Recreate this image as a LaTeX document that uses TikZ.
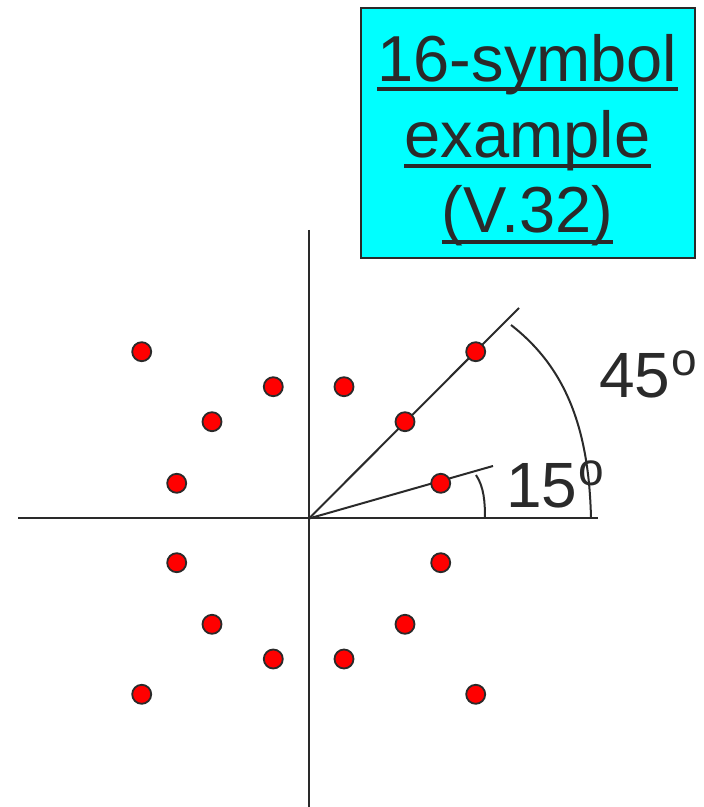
\documentclass[tikz,border=0pt]{standalone}
\usepackage{fontspec}
\setmainfont{Liberation Sans}
\definecolor{ink}{HTML}{2A2A2A}
\definecolor{boxcyan}{HTML}{00FFFF}
\definecolor{dotred}{HTML}{FF0000}
\begin{document}
\begin{tikzpicture}[x=1pt,y=1pt,
  axis/.style={draw=ink,line width=2pt},
  pt/.style={circle,draw=ink,fill=dotred,line width=1.8pt,minimum size=19pt,inner sep=0pt},
  title/.style={inner sep=0pt,text=ink,font=\fontsize{65}{76}\selectfont,anchor=base},
  uline/.style={draw=ink,line width=4pt},
  lab/.style={inner sep=0pt,text=ink,font=\fontsize{64}{70}\selectfont,anchor=base west},
  sup/.style={inner sep=0pt,text=ink,font=\fontsize{46}{50}\selectfont,anchor=base west}]
\useasboundingbox (0,0) rectangle (704,807);
% title box
\node[draw=ink,line width=2pt,fill=boxcyan,minimum width=334pt,minimum height=250pt,inner sep=0pt] (box) at (528,674) {};
\node[title] (t1) at (527.5,725) {16-symbol};
\node[title] (t2) at (527.5,649) {example};
\node[title] (t3) at (527.5,574) {(V.32)};
\draw[uline] ([yshift=-7pt]t1.base west) -- ([yshift=-7pt]t1.base east);
\draw[uline] ([yshift=-8pt]t2.base west) -- ([yshift=-8pt]t2.base east);
\draw[uline] ([yshift=-9pt]t3.base west) -- ([yshift=-9pt]t3.base east);
% axes
\coordinate (O) at (309,288.5);
\coordinate (xl) at (18,288.5);
\coordinate (xr) at (598,288.5);
\coordinate (yt) at (309,577);
\coordinate (yb) at (309,0);
\draw[axis] (xl) -- (xr);
\draw[axis] (yt) -- (yb);
\coordinate (r45) at (519,499);
\coordinate (r15) at (493,341);
\draw[axis] (O) -- (r45);
\draw[axis] (O) -- (r15);
% angle arcs
\coordinate (a45s) at (511,482);
\coordinate (a45e) at (591,288.5);
\draw[axis] (a45s) .. controls (565,440) and (589,380) .. (a45e);
\coordinate (a15s) at (476,332);
\coordinate (a15e) at (485,288.5);
\draw[axis] (a15s) .. controls (484,320) and (485,305) .. (a15e);
% labels
\node[lab] (l45) at (599,409) {45};
\node[sup] (l45o) at (l45.base east) [yshift=22pt,xshift=1pt] {o};
\node[lab] (l15) at (506,299) {15};
\node[sup] (l15o) at (l15.base east) [yshift=22pt,xshift=1pt] {o};
% constellation points (upper half)
\node[pt] (u1) at (141.7,455.3) {};
\node[pt] (u2) at (273.3,420.3) {};
\node[pt] (u3) at (344,420.3) {};
\node[pt] (u4) at (475.7,455.3) {};
\node[pt] (u5) at (212,385.3) {};
\node[pt] (u6) at (405,385.3) {};
\node[pt] (u7) at (176.7,323.7) {};
\node[pt] (u8) at (440.7,323.7) {};
% constellation points (lower half)
\node[pt] (d1) at (176.7,244.3) {};
\node[pt] (d2) at (440.7,244.3) {};
\node[pt] (d3) at (212,182.7) {};
\node[pt] (d4) at (405,182.7) {};
\node[pt] (d5) at (273.3,148) {};
\node[pt] (d6) at (344,148) {};
\node[pt] (d7) at (141.7,112.7) {};
\node[pt] (d8) at (475.7,112.7) {};
\end{tikzpicture}
\end{document}
